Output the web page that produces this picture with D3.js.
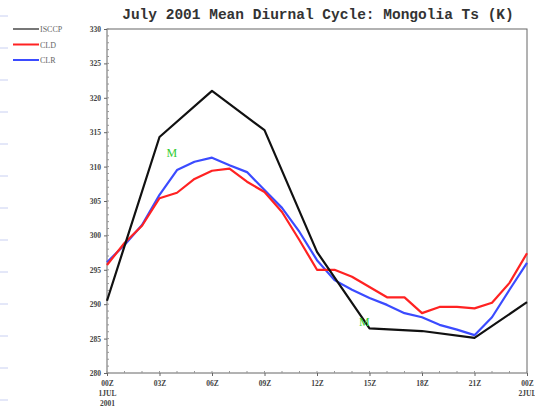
<!DOCTYPE html>
<html>
<head>
<meta charset="utf-8">
<script src="https://cdn.jsdelivr.net/npm/d3@7"></script>
<style>
  body { margin: 0; background: #fff; }
  svg { display: block; font-family: "Liberation Serif", "DejaVu Serif", serif; }
</style>
</head>
<body>
<div id="plot"></div>
<script>
// hours since 00Z 1 JUL 2001
var hours = d3.range(0, 25)
var iscHours = [0, 3, 6, 9, 12, 15, 18, 21, 24]
var iscValues = [290.5, 314.3, 321.0, 315.3, 297.6, 286.5, 286.1, 285.1, 290.3]
var cldValues = [295.7, 298.9, 301.4, 305.4, 306.2, 308.2, 309.4, 309.7, 307.8, 306.3,
                 303.4, 299.3, 295.0, 295.0, 294.0, 292.5, 291.0, 291.0, 288.7, 289.6,
                 289.6, 289.4, 290.2, 293.1, 297.4]
var clrValues = [296.1, 298.6, 301.5, 305.9, 309.5, 310.7, 311.3, 310.2, 309.2, 306.6,
                 304.0, 300.5, 296.4, 293.5, 292.1, 290.9, 289.9, 288.7, 288.1, 287.0,
                 286.3, 285.5, 288.1, 292.1, 296.0]
var markHours = [3.7, 14.7]
var markValues = [312.1, 287.6]

var seriesNames = ["ISCCP", "CLD", "CLR"]
var seriesColors = ["#111", "#f22", "#3b4bff"]
var yTicks = [280, 285, 290, 295, 300, 305, 310, 315, 320, 325, 330]
var xTicks = [0, 3, 6, 9, 12, 15, 18, 21, 24]
var xTickLabels = [["00Z", "1JUL", "2001"], ["03Z"], ["06Z"], ["09Z"], ["12Z"],
                   ["15Z"], ["18Z"], ["21Z"], ["00Z", "2JUL"]]
var title = "July 2001 Mean Diurnal Cycle: Mongolia Ts (K)"

var margin = {top: 29, right: 8, bottom: 37, left: 107}
  , width = 535 - margin.left - margin.right
  , height = 410 - margin.top - margin.bottom

var svg = d3.select("#plot")
  .append("svg")
    .attr("width", 535)
    .attr("height", 410)

// faint marks along the left edge
svg.selectAll(".edge")
  .data(d3.range(13))
  .enter().append("line")
    .attr("x1", 0).attr("x2", 8)
    .attr("y1", d => 16 + d * 32).attr("y2", d => 16 + d * 32)
    .attr("stroke", "#c9d0f2").attr("stroke-width", 1)

var g = svg.append("g")
  .attr("transform", "translate(" + margin.left + "," + margin.top + ")")

var xScale = d3.scaleLinear().domain([0, 24]).range([0, width])
var yScale = d3.scaleLinear().domain([280, 330]).range([height, 0])

// frame
g.append("rect")
  .attr("width", width).attr("height", height)
  .attr("fill", "none").attr("stroke", "#666").attr("stroke-width", 1)

// minor ticks
g.selectAll(".ymin")
  .data(d3.range(280, 331))
  .enter().append("line")
    .attr("x1", 0).attr("x2", 2)
    .attr("y1", d => yScale(d)).attr("y2", d => yScale(d))
    .attr("stroke", "#999")
g.selectAll(".xmin")
  .data(hours)
  .enter().append("line")
    .attr("x1", d => xScale(d)).attr("x2", d => xScale(d))
    .attr("y1", height).attr("y2", height - 2)
    .attr("stroke", "#999")

var yAxis = g.append("g")
  .call(d3.axisLeft(yScale).tickValues(yTicks).tickSize(3).tickFormat(d3.format("d")))
yAxis.select(".domain").remove()
yAxis.selectAll("line").attr("stroke", "#666")
yAxis.selectAll("text")
  .style("font-family", "Liberation Serif, serif")
  .style("font-size", "7.5px").style("font-weight", "bold")
  .attr("fill", "#444")

var xAxis = g.append("g")
  .attr("transform", "translate(0," + height + ")")
  .call(d3.axisBottom(xScale).tickValues(xTicks).tickSize(3).tickFormat(""))
xAxis.select(".domain").remove()
xAxis.selectAll("line").attr("stroke", "#666")

xAxis.selectAll(".tick").each(function(d, i) {
  var t = d3.select(this).append("text")
    .attr("text-anchor", "middle")
    .style("font-family", "Liberation Serif, serif")
    .style("font-size", "7.5px").style("font-weight", "bold")
    .attr("fill", "#444")
  xTickLabels[i].forEach((s, k) => {
    t.append("tspan").attr("x", 0).attr("y", 13 + k * 10).text(s)
  })
})

var line = d3.line()
  .x(d => xScale(d[0]))
  .y(d => yScale(d[1]))

var series = [
  d3.zip(iscHours, iscValues),
  d3.zip(hours, cldValues),
  d3.zip(hours, clrValues)
]

g.selectAll(".series")
  .data(series)
  .enter().append("path")
    .attr("class", "series")
    .attr("d", line)
    .attr("fill", "none")
    .attr("stroke", (d, i) => seriesColors[i])
    .attr("stroke-width", 2.2)
    .attr("stroke-linejoin", "round")

// red above blue, black on top, like the picture
g.selectAll(".series").filter((d, i) => i == 1).raise()
g.selectAll(".series").filter((d, i) => i == 0).raise()

g.selectAll(".mark")
  .data(d3.zip(markHours, markValues))
  .enter().append("text")
    .attr("x", d => xScale(d[0]))
    .attr("y", d => yScale(d[1]) + 5)
    .attr("text-anchor", "middle")
    .style("font-size", "12px")
    .attr("fill", "#3c3")
    .text("M")

svg.append("text")
  .attr("x", 318).attr("y", 19)
  .attr("text-anchor", "middle")
  .style("font-family", "'Liberation Mono', 'DejaVu Sans Mono', monospace")
  .style("font-weight", "bold")
  .style("font-size", "14.5px")
  .attr("fill", "#333")
  .text(title)

var legend = svg.selectAll(".legend")
  .data(seriesNames)
  .enter().append("g")
    .attr("transform", (d, i) => "translate(13," + (29 + i * 15.5) + ")")
legend.append("line")
  .attr("x1", 0).attr("x2", 26)
  .attr("stroke", (d, i) => i == 0 ? "#777" : seriesColors[i])
  .attr("stroke-width", 2)
legend.append("text")
  .attr("x", 27).attr("y", 3)
  .style("font-size", "8px")
  .attr("fill", "#666")
  .text(d => d)
</script>
</body>
</html>
